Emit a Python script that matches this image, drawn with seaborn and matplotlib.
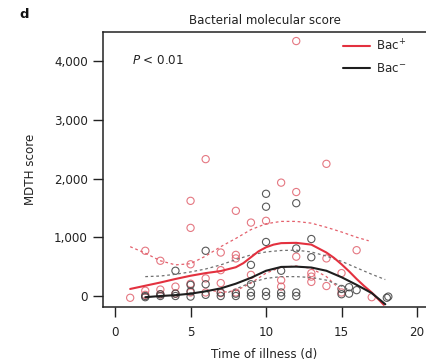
import numpy as np
import pandas as pd
import matplotlib
matplotlib.use("Agg")
import matplotlib.pyplot as plt
from matplotlib.lines import Line2D
import seaborn as sns

# ---- data ----
pos_day = [1, 2, 2, 2, 3, 3, 3, 4, 4, 5, 5, 5, 5, 5, 6, 6, 6, 7, 7, 7, 7,
           8, 8, 8, 8, 9, 9, 10, 11, 11, 11, 12, 12, 12, 13, 13, 13,
           14, 14, 14, 15, 15, 16, 17]
pos_score = [-30, 770, 90, 20, 600, 110, 30, 160, 40, 1620, 1160, 540, 210, 60,
             2330, 300, 60, 740, 440, 220, 50, 1450, 700, 640, 60, 1250, 360,
             1280, 1930, 270, 160, 4340, 1770, 670, 390, 330, 240,
             2250, 640, 170, 390, 60, 780, -20]

neg_day = [2, 2, 3, 3, 4, 4, 4, 5, 5, 5, 6, 6, 6, 7, 7, 8, 8, 9, 9, 9, 9,
           10, 10, 10, 10, 10, 11, 11, 11, 12, 12, 12, 12, 13, 13,
           15, 15, 15.5, 15.5, 16, 18, 18.1]
neg_score = [0, -20, 0, 30, 430, 0, 40, -10, 80, 190, 770, 200, 20, 0, 60, 0, 40,
             530, 200, 60, 0, 1740, 1520, 920, 70, 0, 430, 60, 0, 1580, 810, 60, 0,
             970, 660, 120, 30, 150, 40, 100, -30, -10]

# smoothed fits and confidence bands
pos_fit_day = [1, 2, 3, 4, 5, 6, 7, 8, 8.5, 9, 9.5, 10, 10.5, 11, 12, 13, 14, 14.5,
               15, 15.5, 16, 16.5, 17, 17.8]
pos_fit = [120, 175, 230, 290, 345, 390, 425, 490, 560, 660, 760, 830, 875, 900, 905,
           875, 740, 650, 540, 420, 290, 170, 60, -150]
pos_hi_day = [1, 2, 3, 4, 5, 6, 7, 8, 9, 10, 11, 12, 13, 14, 15, 16, 16.8]
pos_hi = [840, 730, 600, 530, 550, 680, 840, 980, 1130, 1230, 1270, 1270, 1240, 1170, 1090, 1000, 940]
pos_lo_day = [6.5, 7, 8, 9, 10, 11, 12, 13, 14, 15]
pos_lo = [90, 60, 90, 220, 390, 490, 510, 470, 330, 90]

neg_fit_day = [2, 3, 4, 5, 6, 7, 8, 9, 10, 11, 12, 13, 14, 15, 16, 17, 17.9]
neg_fit = [-20, 0, 15, 40, 80, 130, 210, 310, 430, 495, 500, 485, 430, 320, 190, 50, -140]
neg_hi_day = [2, 3, 4, 5, 6, 7, 8, 9, 10, 11, 12, 13, 14, 15, 16, 17, 17.9]
neg_hi = [330, 340, 370, 410, 460, 530, 620, 700, 750, 775, 780, 750, 680, 590, 480, 370, 280]
neg_lo_day = [7.5, 8, 9, 10, 11, 12, 13, 14, 15, 15.6]
neg_lo = [60, 120, 230, 300, 330, 330, 315, 270, 170, 90]

title = "Bacterial molecular score"
x_ticks = [0, 5, 10, 15, 20]
y_ticks = [0, 1000, 2000, 3000, 4000]
y_ticklabels = ["0", "1,000", "2,000", "3,000", "4,000"]

# ---- styling ----
sns.set_style("ticks")
plt.rcParams["font.family"] = ["DejaVu Sans"]
plt.rcParams["mathtext.fontset"] = "dejavusans"

RED = "#e3313f"
RED_PT = "#e0606c"
RED_DASH = "#e4606c"
BLK = "#1e1e1e"
BLK_PT = "#3c3c3c"
GRY_DASH = "#707070"
TXT = "#222222"
FS = 8.6

fig = plt.figure(figsize=(4.26, 3.61), dpi=100)
ax = fig.add_axes([103 / 426, 1 - 307 / 361, 1 - 103 / 426, (307 - 32) / 361])

dash = (0, (2.2, 2.2))

def line(xs, ys, color, lw, ls="-"):
    sns.lineplot(x=xs, y=ys, ax=ax, color=color, linewidth=lw, linestyle=ls,
                 errorbar=None, sort=True)

sns.scatterplot(x=pos_day, y=pos_score, ax=ax, marker="o", s=27,
                facecolors="none", edgecolors=RED_PT, linewidths=0.8, alpha=0.85)
sns.scatterplot(x=neg_day, y=neg_score, ax=ax, marker="o", s=27,
                facecolors="none", edgecolors=BLK_PT, linewidths=0.8, alpha=0.85)

line(pos_hi_day, pos_hi, RED_DASH, 0.9, dash)
line(pos_lo_day, pos_lo, RED_DASH, 0.9, dash)
line(neg_hi_day, neg_hi, GRY_DASH, 0.9, dash)
line(neg_lo_day, neg_lo, GRY_DASH, 0.9, dash)
line(pos_fit_day, pos_fit, RED, 1.5)
line(neg_fit_day, neg_fit, BLK, 1.5)

ax.set_xlim(-0.8, (426 - 115) / 15.1)
ax.set_ylim(-187, 4494)
ax.set_xticks(x_ticks)
ax.set_xticklabels([str(t) for t in x_ticks])
ax.set_yticks(y_ticks)
ax.set_yticklabels(y_ticklabels)
ax.tick_params(axis="both", labelsize=FS, length=7, width=1, colors=TXT, pad=4)
ax.tick_params(axis="x", pad=6.5)
for s in ["left", "bottom", "top"]:
    ax.spines[s].set_linewidth(1.1)
    ax.spines[s].set_color(TXT)
ax.spines["right"].set_visible(False)

ax.set_xlabel("Time of illness (d)", fontsize=FS, color=TXT, labelpad=7)
ax.set_ylabel("MDTH score", fontsize=FS, color=TXT, labelpad=12)
ax.set_title(title, fontsize=FS, color=TXT, pad=6)

fig.text(132 / 426, 1 - 61 / 361, r"$P$ < 0.01", fontsize=FS, color=TXT,
         va="center", ha="left")
fig.text(19 / 426, 1 - 15 / 361, "d", fontsize=9.5, fontweight="bold",
         color="#111111", va="center", ha="left")

handles = [Line2D([], [], color=RED, lw=1.5), Line2D([], [], color=BLK, lw=1.5)]
ax.legend(handles, [r"Bac$^{+}$", r"Bac$^{-}$"], loc="upper left",
          bbox_to_anchor=(343 / 426, 1 - 38 / 361), bbox_transform=fig.transFigure,
          frameon=False, fontsize=FS, handlelength=2.3, handletextpad=0.45,
          labelspacing=0.75, borderaxespad=0, borderpad=0)

fig.savefig("out.png", dpi=100)
